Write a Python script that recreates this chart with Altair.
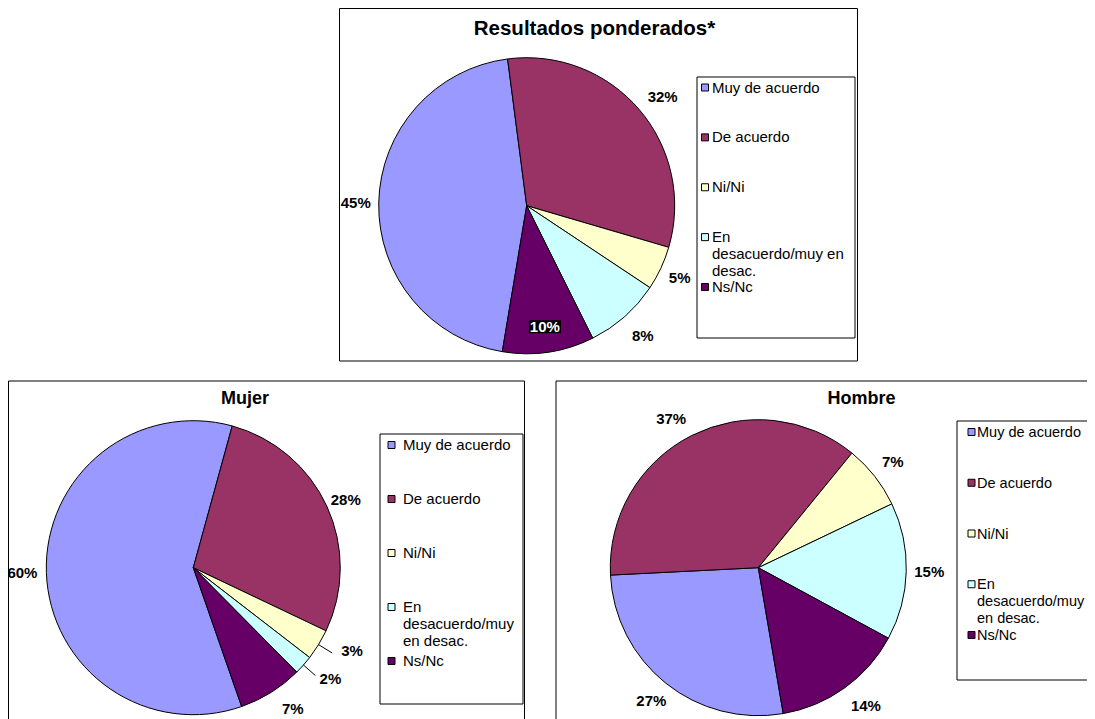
import math
import json
import altair as alt
import pandas as pd

# ---------------- data ----------------
categories = ["Muy de acuerdo", "De acuerdo", "Ni/Ni",
              "En desacuerdo/muy en desac.", "Ns/Nc"]
colors = ["#9999FF", "#993366", "#FFFFCC", "#CCFFFF", "#660066"]

titles = ["Resultados ponderados*", "Mujer", "Hombre"]
pct_total = [45.3, 31.6, 4.8, 8.3, 10.0]
pct_mujer = [59.6, 27.8, 3.4, 2.1, 7.1]
pct_hombre = [26.9, 36.7, 7.0, 15.0, 14.4]

legend_top = ["Muy de acuerdo", "De acuerdo", "Ni/Ni",
              "En\ndesacuerdo/muy en\ndesac.", "Ns/Nc"]
legend_bottom = ["Muy de acuerdo", "De acuerdo", "Ni/Ni",
                 "En\ndesacuerdo/muy\nen desac.", "Ns/Nc"]

# ---------------- layout helpers ----------------
FONT = "Liberation Sans"
M = 8            # page margin
W, H = 1079, 711


def px(v):
    return v - M


color_enc = alt.Color("cat:N", scale=alt.Scale(domain=categories, range=colors),
                      legend=None)


def pie_df(vals):
    return pd.DataFrame({"cat": categories, "v": vals,
                         "k": list(range(len(vals))),
                         "pct": [f"{round(v)}%" for v in vals]})


def in_set(ks):
    return "indexof(%s, datum.k) >= 0" % json.dumps(list(ks))


def pie(vals, cx, cy, start_deg, r=148, lr=171, inside=(), nudges=None,
        leaders=()):
    nudges = nudges or {}
    df = pie_df(vals)
    a0 = math.radians(start_deg)
    tot = sum(vals)
    th = alt.Theta("v:Q", stack=True,
                   scale=alt.Scale(domain=[0, tot], range=[a0, a0 + 2 * math.pi]))
    base = alt.Chart(df).encode(theta=th, order=alt.Order("k:Q"),
                                x=alt.value(px(cx)), y=alt.value(px(cy)))
    layers = []

    def polar(ch):
        return ch.transform_window(
            cum="sum(v)", sort=[alt.SortField("k")], frame=[None, 0]
        ).transform_calculate(
            ang=f"{a0} + 2*PI*(datum.cum - datum.v/2)/{tot}"
        )

    layers.append(base.mark_arc(outerRadius=r, stroke="black", strokeWidth=1)
                  .encode(color=color_enc))

    special = list(inside) + list(nudges.keys())
    normal_test = "!(" + in_set(special) + ")" if special else "true"
    layers.append(base.mark_text(radius=lr, fontSize=15, fontWeight="bold",
                                 font=FONT, color="black")
                  .encode(text="pct:N", detail="cat:N",
                          opacity=alt.condition(normal_test, alt.value(1), alt.value(0))))
    for k, (ndx, ndy) in nudges.items():
        layers.append(base.mark_text(radius=lr, fontSize=15, fontWeight="bold",
                                     font=FONT, color="black", dx=ndx, dy=ndy)
                      .encode(text="pct:N", detail="cat:N",
                              opacity=alt.condition(in_set([k]), alt.value(1), alt.value(0))))
    if leaders:
        rl = polar(alt.Chart(df)).transform_calculate(
            xa=f"{px(cx)} + {r}*sin(datum.ang)",
            ya=f"{px(cy)} - {r}*cos(datum.ang)",
            xb=f"{px(cx)} + {r + 16}*sin(datum.ang)",
            yb=f"{px(cy)} - {r + 16}*cos(datum.ang)",
        ).transform_filter(in_set(leaders)).mark_rule(color="black", strokeWidth=1).encode(
            x=alt.X("xa:Q", scale=None, axis=None), x2="xb:Q",
            y=alt.Y("ya:Q", scale=None, axis=None), y2="yb:Q")
        layers.append(rl)
    if inside:
        ri = 123
        bx = polar(alt.Chart(df)).transform_calculate(
            cxp=f"{px(cx)} + {ri}*sin(datum.ang)",
            cyp=f"{px(cy)} - {ri}*cos(datum.ang)",
        ).transform_calculate(
            x0="datum.cxp - 16", x1="datum.cxp + 16",
            y0="datum.cyp - 7", y1="datum.cyp + 6",
        ).transform_filter(in_set(inside)).mark_rect(color="black").encode(
            x=alt.X("x0:Q", scale=None, axis=None), x2="x1:Q",
            y=alt.Y("y0:Q", scale=None, axis=None), y2="y1:Q")
        layers.append(bx)
        layers.append(base.mark_text(radius=ri, fontSize=15, fontWeight="bold",
                                     font=FONT, color="white")
                      .encode(text="pct:N", detail="cat:N",
                              opacity=alt.condition(in_set(inside), alt.value(1), alt.value(0))))
    return layers


def title(t, cx, base_y, size):
    return alt.Chart(pd.DataFrame({"t": [t]})).mark_text(
        font=FONT, fontSize=size, fontWeight="bold", align="center",
        baseline="alphabetic", color="black"
    ).encode(text="t:N", x=alt.value(px(cx)), y=alt.value(px(base_y)))


def box(x0, y0, x1, y1):
    return alt.Chart(pd.DataFrame({"b": [0]})).mark_rect(
        fill="white", stroke="black", strokeWidth=1
    ).encode(x=alt.value(px(x0)), x2=alt.value(px(x1)),
             y=alt.value(px(y0)), y2=alt.value(px(y1)))


def legend(labels, sx, tx, y0, y1, fs):
    df = pd.DataFrame({"cat": categories, "lab": labels})
    ysc = alt.Y("cat:N", scale=alt.Scale(domain=categories,
                                         range=[px(y0), px(y1)], padding=0),
                axis=None)
    sq = alt.Chart(df).mark_square(size=49, stroke="black", strokeWidth=1,
                                   opacity=1).encode(
        x=alt.value(px(sx)), y=ysc, color=color_enc)
    tt = alt.Chart(df).mark_text(
        align="left", baseline="alphabetic", dy=round(0.36 * fs), fontSize=fs,
        font=FONT, lineBreak="\n", lineHeight=17, color="black"
    ).encode(x=alt.value(px(tx)), y=ysc, text="lab:N")
    return [sq, tt]


layers = []
# panel frames
layers.append(box(339.5, 8.5, 857.5, 361))
layers.append(box(8.5, 381, 524.5, 740))
layers.append(box(556, 381, 1120, 740))
# legend boxes
layers.append(box(697, 77, 855, 338))
layers.append(box(380, 434, 523, 704))
layers.append(box(957, 421, 1120, 680))
# titles
layers.append(title(titles[0], 594.5, 35, 20.5))
layers.append(title(titles[1], 245, 404, 18))
layers.append(title(titles[2], 861.5, 404, 18))
# pies
layers += pie(pct_total, 526.7, 205.7, 189.5, inside=(4,),
              nudges={1: (6, 2), 2: (-2, 0), 3: (3, 2)})
layers += pie(pct_mujer, 193.3, 567.7, 160.8, r=147,
              nudges={1: (-3, 3), 2: (13, -6), 3: (9, -2), 4: (9, -4)},
              leaders=(2, 3))
layers += pie(pct_hombre, 758.3, 567.7, 170.3,
              nudges={1: (-10, 4), 4: (8, -1)})
# legends
layers += legend(legend_top, 705, 712, 87.5, 287, 15)
layers += legend(legend_bottom, 391.5, 403, 445, 661, 15)
layers += legend(legend_bottom, 971.5, 977, 432, 635, 14.5)

chart = alt.layer(*layers).resolve_scale(
    theta="independent", y="independent", x="independent"
).properties(
    width=W, height=H, padding=0,
    autosize=alt.AutoSizeParams(type="none"),
    background="white",
).configure_view(stroke=None)

chart.save("out.html", embed_options={"renderer": "svg", "actions": False})
